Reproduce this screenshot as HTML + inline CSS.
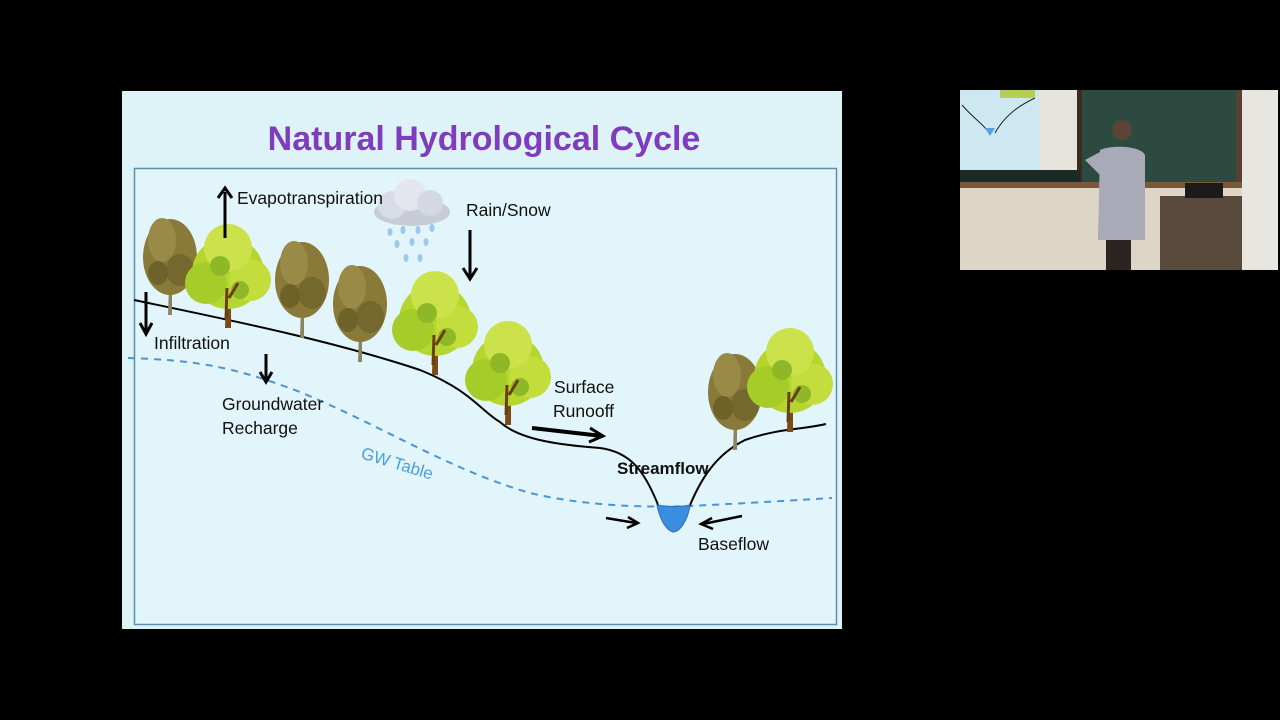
<!DOCTYPE html>
<html><head><meta charset="utf-8"><style>
html,body{margin:0;padding:0;background:#000;width:1280px;height:720px;overflow:hidden}
svg{display:block}
text{font-family:"Liberation Sans",sans-serif}
</style></head><body>
<svg width="1280" height="720" viewBox="0 0 1280 720" xmlns="http://www.w3.org/2000/svg">
<defs>
<g id="lt">
 <path d="M-3,0 L-2,-40 L-12,-55 L-2,-48 L0,-60 L3,-48 L12,-58 L3,-40 L3,0Z" fill="#7a4a18"/>
 <circle cx="0" cy="-55" r="36" fill="#b5d62e"/>
 <circle cx="-22" cy="-45" r="21" fill="#a6cc2a"/>
 <circle cx="22" cy="-48" r="21" fill="#c2dd3c"/>
 <circle cx="0" cy="-80" r="24" fill="#cbe24a"/>
 <circle cx="-8" cy="-62" r="10" fill="#8fb828"/>
 <circle cx="12" cy="-38" r="9" fill="#8fb828"/>
 <path d="M-2,-10 L-1,-40 M1,-30 L10,-45" stroke="#6a3e14" stroke-width="3"/>
</g>
<g id="dt">
 <path d="M-2,0 L-1,-30 L-12,-45 L-1,-36 L0,-50 L2,-36 L12,-45 L2,-30 L2,0Z" fill="#8c8460"/>
 <ellipse cx="0" cy="-58" rx="27" ry="38" fill="#8a7a3a"/>
 <ellipse cx="-8" cy="-75" rx="14" ry="22" fill="#9a8a48"/>
 <ellipse cx="10" cy="-45" rx="14" ry="16" fill="#75682e"/>
 <ellipse cx="-12" cy="-42" rx="10" ry="12" fill="#6e6228"/>
</g>
</defs>
<rect width="1280" height="720" fill="#000"/>
<rect x="122" y="91" width="720" height="538" fill="#def3f8"/>
<text x="484" y="150" font-size="34" font-weight="bold" fill="#7f3cbc" text-anchor="middle">Natural Hydrological Cycle</text>
<rect x="134.5" y="168.5" width="702" height="456" fill="#e2f5fa" stroke="#5a8fb0" stroke-width="1.5"/>
<path d="M128,358 C190,360 230,365 300,392 C380,425 450,470 530,493 C580,505 640,508 690,506 C750,503 800,500 832,498" fill="none" stroke="#4a94d8" stroke-width="2" stroke-dasharray="7,6"/>
<path d="M134,300 C220,318 330,340 420,370 C470,390 480,410 500,422 C520,440 560,445 600,448 C630,452 645,470 660,510" fill="none" stroke="#000" stroke-width="2"/>
<path d="M688,510 C700,480 715,455 745,440 C780,428 800,430 826,424" fill="none" stroke="#000" stroke-width="2"/>
<path d="M657,505 C670,507 680,507 690,505 C688,520 680,532 673,532 C666,530 660,520 657,505Z" fill="#3a8ee0" stroke="#2a70b8" stroke-width="1"/>
<use href="#dt" x="170" y="315"/>
<use href="#lt" x="228" y="328"/>
<use href="#dt" x="302" y="338"/>
<use href="#dt" x="360" y="362"/>
<use href="#lt" x="435" y="375"/>
<use href="#lt" x="508" y="425"/>
<use href="#dt" x="735" y="450"/>
<use href="#lt" x="790" y="432"/>
<g>
 <ellipse cx="412" cy="212" rx="38" ry="14" fill="#c8ccd4"/>
 <circle cx="392" cy="205" r="14" fill="#d8dce4"/>
 <circle cx="410" cy="195" r="16" fill="#e4e6ee"/>
 <circle cx="430" cy="203" r="13" fill="#d4d8e0"/>
 <g fill="#9cc8ec">
  <ellipse cx="390" cy="232" rx="2.5" ry="4"/><ellipse cx="403" cy="230" rx="2.5" ry="4"/><ellipse cx="418" cy="230" rx="2.5" ry="4"/><ellipse cx="432" cy="228" rx="2.5" ry="4"/>
  <ellipse cx="397" cy="244" rx="2.5" ry="4"/><ellipse cx="412" cy="242" rx="2.5" ry="4"/><ellipse cx="426" cy="242" rx="2.5" ry="4"/>
  <ellipse cx="406" cy="258" rx="2.5" ry="4"/><ellipse cx="420" cy="258" rx="2.5" ry="4"/>
 </g>
</g>
<g stroke="#000" stroke-width="3" fill="none">
 <path d="M225,238 V192"/><path d="M218,198 L225,188 L232,198"/>
 <path d="M470,230 V276"/><path d="M463,268 L470,279 L477,268"/>
 <path d="M146,292 V332"/><path d="M140,323 L146,334 L152,323"/>
 <path d="M266,354 V380"/><path d="M260,372 L266,382 L272,372"/>
 <path d="M532,428 L602,436" stroke-width="4"/><path d="M590,428 L603,436 L589,442"/>
 <path d="M606,518 L636,523" stroke-width="2.5"/><path d="M628,517 L638,523 L627,528" stroke-width="2.5"/>
 <path d="M742,516 L703,524" stroke-width="2.5"/><path d="M712,518 L701,524 L713,529" stroke-width="2.5"/>
</g>
<g font-size="17.5" fill="#111">
 <text x="237" y="204">Evapotranspiration</text>
 <text x="466" y="216">Rain/Snow</text>
 <text x="154" y="349">Infiltration</text>
 <text x="222" y="410">Groundwater</text>
 <text x="222" y="434">Recharge</text>
 <text x="554" y="393">Surface</text>
 <text x="553" y="417">Runooff</text>
 <text x="617" y="474" font-weight="bold" font-size="17">Streamflow</text>
 <text x="698" y="550">Baseflow</text>
</g>
<text x="360" y="458" font-size="17" fill="#4a9ee0" transform="rotate(17 360 458)">GW Table</text>
<rect x="960" y="90" width="318" height="180" fill="#d8d2c4"/>
<rect x="960" y="90" width="80" height="80" fill="#cde8f0"/>
<path d="M962,105 C975,120 985,125 990,135 M995,133 C1005,115 1020,105 1035,98" stroke="#222" fill="none"/>
<path d="M985,128 L995,128 L990,136Z" fill="#5aa0e0"/>
<rect x="1000" y="90" width="35" height="8" fill="#b5d050"/>
<rect x="1040" y="90" width="37" height="80" fill="#e6e4dc"/>
<rect x="1077" y="90" width="165" height="92" fill="#2c4a40"/>
<rect x="1077" y="90" width="5" height="95" fill="#3a2c20"/>
<rect x="1236" y="90" width="6" height="95" fill="#5a4030"/>
<rect x="960" y="170" width="120" height="12" fill="#1c2a24"/>
<rect x="960" y="182" width="282" height="6" fill="#7a5a3a"/>
<rect x="1242" y="90" width="36" height="180" fill="#e8e6e0"/>
<rect x="960" y="188" width="282" height="82" fill="#ddd6c6"/>
<rect x="1160" y="196" width="82" height="74" fill="#5a4a3c"/>
<rect x="1185" y="183" width="38" height="15" fill="#1a1a1a"/>
<path d="M1100,150 C1110,145 1140,145 1145,155 L1145,240 L1098,240 Z" fill="#a9aab8"/>
<path d="M1085,160 L1100,152 L1100,175 Z" fill="#a9aab8"/>
<circle cx="1122" cy="130" r="10" fill="#5a4438"/>
<rect x="1106" y="240" width="25" height="30" fill="#2a2520"/>
</svg>
</body></html>
